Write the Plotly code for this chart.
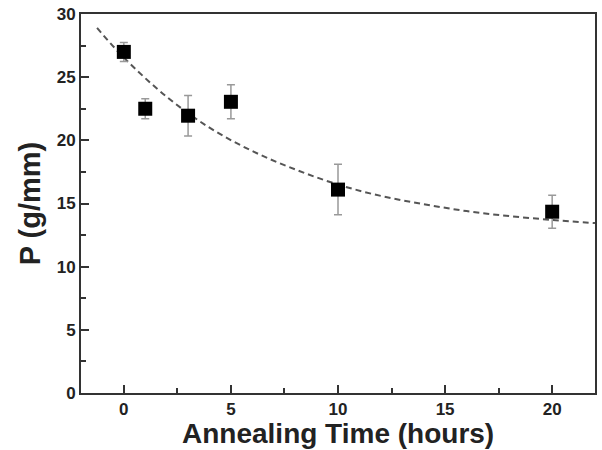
import plotly.graph_objects as go

# Measured data
time_h = [0, 1, 3, 5, 10, 20]
p_vals = [27.0, 22.5, 21.95, 23.05, 16.1, 14.35]
p_err = [0.75, 0.8, 1.6, 1.35, 2.0, 1.3]

# Dashed fit curve
fit_x = [-1.25, 0, 2, 4, 6, 8, 10, 12, 14, 16, 18, 20, 22]
fit_y = [28.9, 26.55, 23.45, 21.0, 19.15, 17.7, 16.5, 15.6, 14.95, 14.4, 14.0, 13.7, 13.45]

x_ticks = [0, 5, 10, 15, 20]
y_ticks = [0, 5, 10, 15, 20, 25, 30]

x_title = "<b>Annealing Time (hours)</b>"
y_title = "<b>P (g/mm)</b>"

fig = go.Figure()
fig.add_trace(go.Scatter(
    x=fit_x, y=fit_y, mode="lines",
    line=dict(color="#555555", width=2, dash="6px,4px", shape="spline"),
    showlegend=False, hoverinfo="skip"))
fig.add_trace(go.Scatter(
    x=time_h, y=p_vals, mode="markers",
    marker=dict(symbol="square", size=14, color="black"),
    error_y=dict(type="data", array=p_err, color="#999999", thickness=1.5, width=4),
    showlegend=False))

font_family = "Liberation Sans, Arial, sans-serif"
minor_common = dict(dtick=2.5, tick0=0, ticks="inside", ticklen=5, tickwidth=2, tickcolor="#333333")
axis_common = dict(
    showline=True, linecolor="#333333", linewidth=2, mirror=True,
    ticks="inside", ticklen=8, tickwidth=2, tickcolor="#333333",
    showgrid=False, zeroline=False, automargin=False,
    tickfont=dict(family=font_family, size=17, color="#222222"),
)
plot_h = 450 - 14 - 57
fig.update_layout(
    width=602, height=450,
    margin=dict(l=81, r=7, t=14, b=57),
    plot_bgcolor="white", paper_bgcolor="white",
    font=dict(family=font_family),
    xaxis=dict(range=[-2, 22], tickvals=x_ticks, ticktext=["<b>%d</b>" % v for v in x_ticks],
               minor=minor_common, **axis_common),
    yaxis=dict(range=[0, 30], tickvals=y_ticks, ticktext=["<b>%d</b>" % v for v in y_ticks],
               minor=minor_common,
               title=dict(text=y_title, font=dict(size=29, color="#222222", family=font_family), standoff=8),
               **axis_common),
    annotations=[dict(text=x_title, xref="paper", yref="paper", x=0.5, y=-(416 - 393) / plot_h,
                      xanchor="center", yanchor="top", showarrow=False,
                      font=dict(size=28, color="#222222", family=font_family))],
)
fig.write_html("out.html")
